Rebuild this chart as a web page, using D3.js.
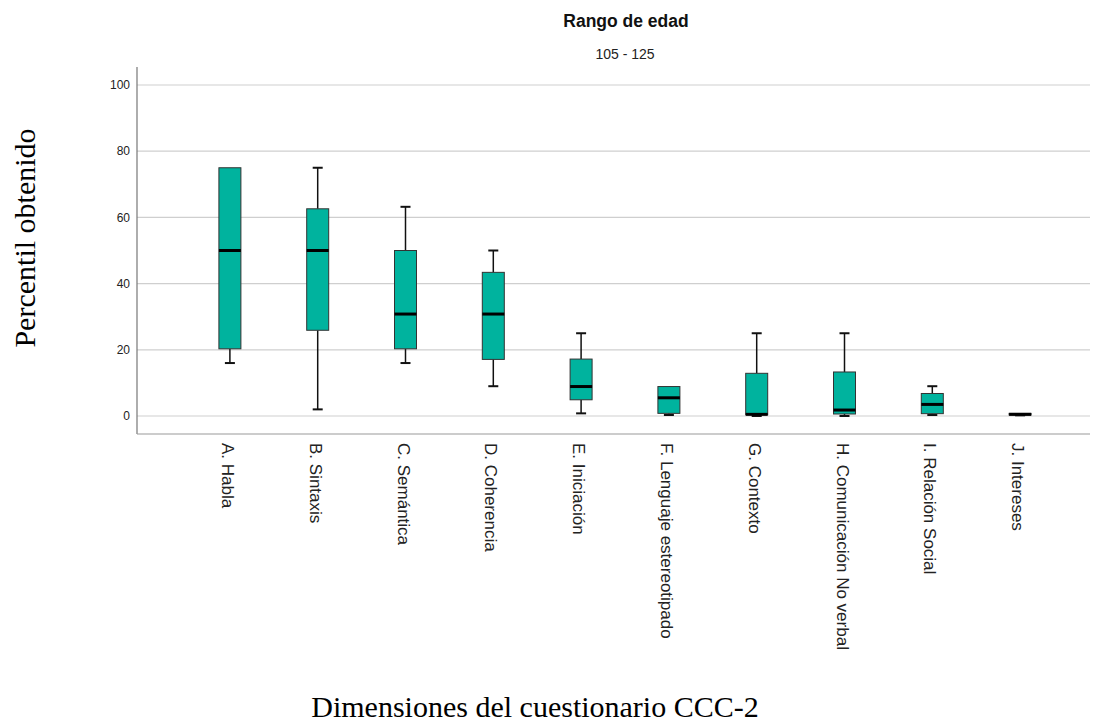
<!DOCTYPE html>
<html><head><meta charset="utf-8">
<script src="https://cdn.jsdelivr.net/npm/d3@7"></script>
<style>body{margin:0;background:#fff}</style>
</head><body>
<svg id="chart" width="1102" height="723"></svg>
<script>
const categories = ["A. Habla","B. Sintaxis","C. Semántica","D. Coherencia","E. Iniciación","F. Lenguaje estereotipado","G. Contexto","H. Comunicación No verbal","I. Relación Social","J. Intereses"];
const minValues    = [16, 2, 16, 9, 0.8, 0.3, 0, 0, 0.3, 0.2];
const q1Values     = [20.3, 25.9, 20.3, 17.1, 4.9, 0.8, 0.4, 0.6, 0.7, 0.3];
const medianValues = [50, 50, 30.8, 30.8, 8.9, 5.5, 0.5, 1.8, 3.5, 0.5];
const q3Values     = [75, 62.6, 50, 43.4, 17.2, 8.9, 12.9, 13.3, 6.8, 0.8];
const maxValues    = [75, 75, 63.2, 50, 25, 8.9, 25, 25, 9, 0.8];
const yTicks = [0, 20, 40, 60, 80, 100];
const titleText = "Rango de edad";
const subtitleText = "105 - 125";
const xTitle = "Dimensiones del cuestionario CCC-2";
const yTitle = "Percentil obtenido";

(function(){
const data = categories.map((c,i)=>({cat:c,min:minValues[i],q1:q1Values[i],med:medianValues[i],q3:q3Values[i],max:maxValues[i]}));

const svg = d3.select("#chart");
const pLeft = 137, pRight = 1090, pTop = 67, pBottom = 434;
const x = d3.scaleBand().domain(categories).range([186, 1064]).padding(0);
const y = d3.scaleLinear().domain([0, 100]).range([416, 85]);
const sans = "Arial, 'Liberation Sans', sans-serif";
const serif = "'Liberation Serif','Times New Roman',serif";

svg.append("g").selectAll("line").data(yTicks).join("line")
  .attr("x1", pLeft).attr("x2", pRight)
  .attr("y1", d=>y(d)).attr("y2", d=>y(d))
  .attr("stroke", "#cfcfcf").attr("stroke-width", 1.2);

svg.append("line").attr("x1", pLeft).attr("x2", pLeft).attr("y1", pTop).attr("y2", pBottom)
  .attr("stroke", "#777").attr("stroke-width", 1.2);
svg.append("line").attr("x1", pLeft).attr("x2", pRight).attr("y1", pBottom).attr("y2", pBottom)
  .attr("stroke", "#999").attr("stroke-width", 1.2);

svg.append("g").selectAll("text").data(yTicks).join("text")
  .attr("x", 130).attr("y", d=>y(d)).attr("dy", "0.35em")
  .attr("text-anchor", "end")
  .attr("font-family", sans).attr("font-size", 12)
  .attr("fill", "#222").text(d=>d);

const bw = 22, cw = 10;
const g = svg.append("g").selectAll("g").data(data).join("g")
  .attr("transform", d=>`translate(${x(d.cat)+x.bandwidth()/2},0)`);
g.append("line").attr("x1",0).attr("x2",0).attr("y1",d=>y(d.q3)).attr("y2",d=>y(d.max))
  .attr("stroke","#111").attr("stroke-width",1.5);
g.append("line").attr("x1",0).attr("x2",0).attr("y1",d=>y(d.q1)).attr("y2",d=>y(d.min))
  .attr("stroke","#111").attr("stroke-width",1.5);
g.filter(d=>d.max>d.q3).append("line").attr("x1",-cw/2).attr("x2",cw/2).attr("y1",d=>y(d.max)).attr("y2",d=>y(d.max))
  .attr("stroke","#111").attr("stroke-width",2);
g.filter(d=>d.min<d.q1).append("line").attr("x1",-cw/2).attr("x2",cw/2).attr("y1",d=>y(d.min)).attr("y2",d=>y(d.min))
  .attr("stroke","#111").attr("stroke-width",2);
g.append("rect").attr("x",-bw/2).attr("width",bw)
  .attr("y",d=>y(d.q3)).attr("height",d=>Math.max(0.5, y(d.q1)-y(d.q3)))
  .attr("fill","#00B39E").attr("stroke","#333").attr("stroke-width",1);
g.append("line").attr("x1",-bw/2).attr("x2",bw/2).attr("y1",d=>y(d.med)).attr("y2",d=>y(d.med))
  .attr("stroke","#000").attr("stroke-width",3);

svg.append("g").selectAll("text").data(categories).join("text")
  .attr("transform", d=>`translate(${x(d)+x.bandwidth()/2-2},443) rotate(90)`)
  .attr("dy","0.35em").attr("text-anchor","start")
  .attr("font-family",sans).attr("font-size",17)
  .attr("fill","#222").text(d=>d);

svg.append("text").attr("x",626).attr("y",27).attr("text-anchor","middle")
  .attr("font-family",sans).attr("font-size",17.5).attr("font-weight","bold")
  .attr("fill","#111").text(titleText);
svg.append("text").attr("x",625).attr("y",59).attr("text-anchor","middle")
  .attr("font-family",sans).attr("font-size",14)
  .attr("fill","#222").text(subtitleText);
svg.append("text").attr("x",535).attr("y",717).attr("text-anchor","middle")
  .attr("font-family",serif).attr("font-size",30)
  .attr("fill","#000").text(xTitle);
svg.append("text").attr("transform","translate(35,238) rotate(-90)").attr("text-anchor","middle")
  .attr("font-family",serif).attr("font-size",30)
  .attr("fill","#000").text(yTitle);
})();
</script>
</body></html>
